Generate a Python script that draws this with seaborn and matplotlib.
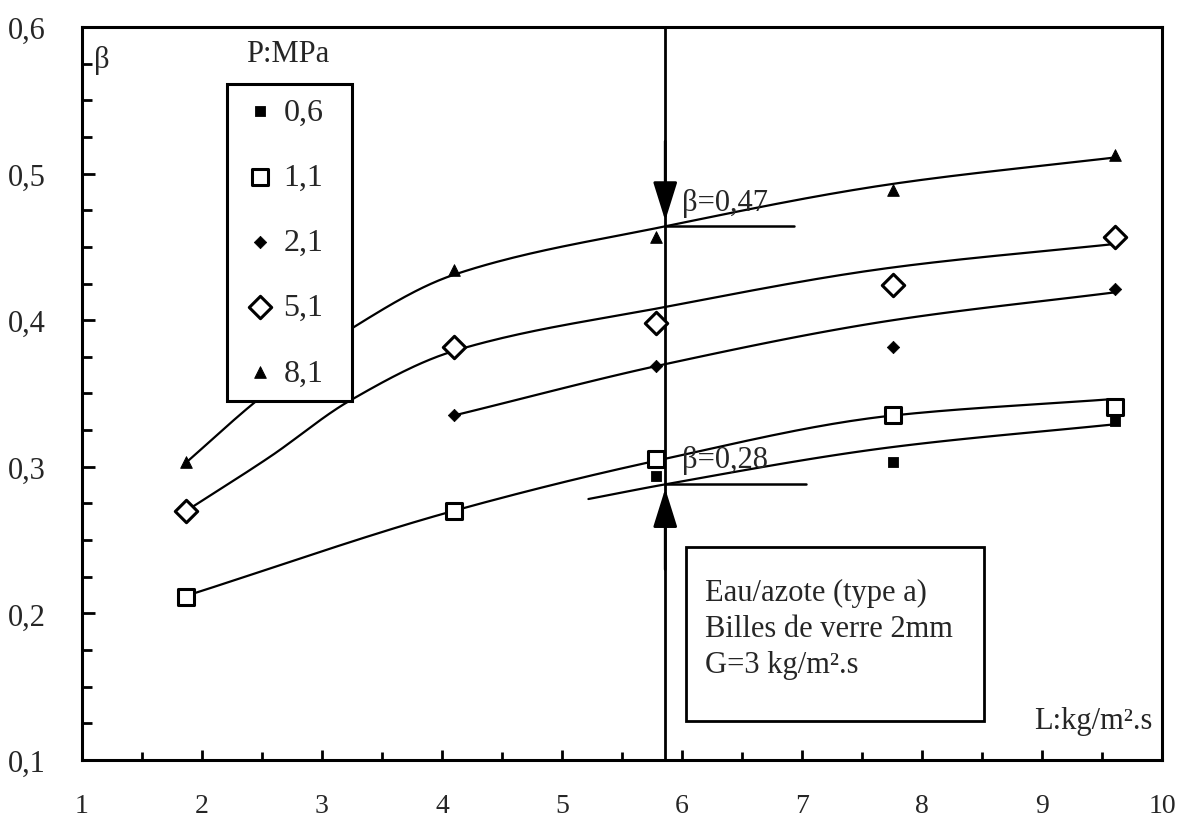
import numpy as np
import pandas as pd
import matplotlib.pyplot as plt
import seaborn as sns
from matplotlib.patches import Rectangle

# measured points (L in kg/m2.s, beta)
x_06 = [5.78, 7.76, 9.61]
b_06 = [0.294, 0.303, 0.331]
x_11 = [1.87, 4.10, 5.78, 7.76, 9.61]
b_11 = [0.211, 0.270, 0.305, 0.335, 0.341]
x_21 = [4.10, 5.78, 7.76, 9.61]
b_21 = [0.335, 0.369, 0.382, 0.421]
x_51 = [1.87, 4.10, 5.78, 7.76, 9.61]
b_51 = [0.270, 0.382, 0.398, 0.424, 0.457]
x_81 = [1.87, 4.10, 5.78, 7.76, 9.61]
b_81 = [0.303, 0.434, 0.457, 0.489, 0.513]

# hand drawn trend curves
cx_06 = [5.22, 5.86, 7.76, 9.61]
cy_06 = [0.278, 0.288, 0.3135, 0.329]
cx_11 = [1.87, 4.10, 5.78, 7.76, 9.56]
cy_11 = [0.212, 0.270, 0.304, 0.335, 0.346]
cx_21 = [4.10, 5.86, 7.76, 9.61]
cy_21 = [0.335, 0.370, 0.400, 0.419]
cx_51 = [1.87, 2.57, 3.23, 4.10, 5.86, 7.76, 9.61]
cy_51 = [0.270, 0.307, 0.345, 0.379, 0.409, 0.436, 0.452]
cx_81 = [1.87, 2.44, 3.26, 4.10, 5.86, 7.76, 9.61]
cy_81 = [0.303, 0.344, 0.395, 0.431, 0.464, 0.493, 0.511]

pressures = ['0,6', '1,1', '2,1', '5,1', '8,1']
x_ticklabels = ['1', '2', '3', '4', '5', '6', '7', '8', '9', '10']
y_ticklabels = ['0,1', '0,2', '0,3', '0,4', '0,5', '0,6']

L_mark = 5.86
beta_hi = 0.464
beta_lo = 0.288


def smooth(xs, ys, n=40):
    # monotone cubic (Fritsch-Carlson) through the knots
    x = np.asarray(xs, float)
    y = np.asarray(ys, float)
    h = np.diff(x)
    d = np.diff(y) / h
    m = np.empty_like(y)
    m[0], m[-1] = d[0], d[-1]
    for k in range(1, len(x) - 1):
        if d[k - 1] * d[k] <= 0:
            m[k] = 0
        else:
            w1 = 2 * h[k] + h[k - 1]
            w2 = h[k] + 2 * h[k - 1]
            m[k] = (w1 + w2) / (w1 / d[k - 1] + w2 / d[k])
    sx, sy = [], []
    for k in range(len(x) - 1):
        t = np.linspace(0, 1, n)
        h00 = 2 * t ** 3 - 3 * t ** 2 + 1
        h10 = t ** 3 - 2 * t ** 2 + t
        h01 = -2 * t ** 3 + 3 * t ** 2
        h11 = t ** 3 - t ** 2
        sx.append(x[k] + t * h[k])
        sy.append(h00 * y[k] + h10 * h[k] * m[k] + h01 * y[k + 1] + h11 * h[k] * m[k + 1])
    return np.concatenate(sx), np.concatenate(sy)


sns.set_theme(style='ticks')
plt.rcParams['font.family'] = ['Liberation Serif', 'DejaVu Serif']
plt.rcParams['axes.linewidth'] = 2.2

fig, ax = plt.subplots(figsize=(11.83, 8.2), dpi=100)
fig.subplots_adjust(left=0.0693, right=0.9823, top=0.9659, bottom=0.072)

# curves
for cx, cy in [(cx_06, cy_06), (cx_11, cy_11), (cx_21, cy_21), (cx_51, cy_51), (cx_81, cy_81)]:
    sx, sy = smooth(cx, cy)
    ax.plot(sx, sy, color='black', lw=1.6, zorder=2)

series = [
    (x_06, b_06, dict(marker='s', s=55, color='black', edgecolor='black')),
    (x_11, b_11, dict(marker='s', s=130, facecolor='white', edgecolor='black', linewidth=2.2)),
    (x_21, b_21, dict(marker='D', s=40, color='black', edgecolor='black')),
    (x_51, b_51, dict(marker='D', s=130, facecolor='white', edgecolor='black', linewidth=2.2)),
    (x_81, b_81, dict(marker='^', s=70, color='black', edgecolor='black')),
]
for (xs, ys, kw), lab in zip(series, pressures):
    df = pd.DataFrame({'L': xs, 'beta': ys})
    sns.scatterplot(data=df, x='L', y='beta', ax=ax, label=lab, zorder=3, **kw)

# vertical reference line with arrows
ax.axvline(L_mark, color='black', lw=2, zorder=2)
arrow = dict(arrowstyle='-|>,head_length=0.8,head_width=0.25', mutation_scale=30,
             color='black', lw=2)
ax.annotate('', xy=(L_mark, beta_hi + 0.002), xytext=(L_mark, beta_hi + 0.06),
            arrowprops=arrow)
ax.annotate('', xy=(L_mark, beta_lo - 0.001), xytext=(L_mark, beta_lo - 0.06),
            arrowprops=arrow)
ax.plot([L_mark, 6.93], [beta_hi, beta_hi], color='black', lw=1.8)
ax.plot([L_mark, 7.03], [beta_lo, beta_lo], color='black', lw=1.8)
ax.text(6.0, 0.475, 'β=0,47', fontsize=22, va='baseline', ha='left')
ax.text(6.0, 0.300, 'β=0,28', fontsize=22, va='baseline', ha='left')

# conditions box
ax.add_patch(Rectangle((6.03, 0.1266), 2.49, 0.1187, fill=True, facecolor='white',
                       edgecolor='black', lw=2, zorder=4))
ax.text(6.19, 0.224, 'Eau/azote (type a)\nBilles de verre 2mm\nG=3 kg/m².s',
        fontsize=22, va='top', ha='left', linespacing=1.32, zorder=5)

ax.text(1.1, 0.578, 'β', fontsize=22, va='center', ha='left')
ax.text(9.92, 0.122, 'L:kg/m².s', fontsize=22, va='baseline', ha='right')

ax.set_xlim(1, 10)
ax.set_ylim(0.1, 0.6)
ax.set_xticks(np.arange(1, 11))
ax.set_xticklabels(x_ticklabels)
ax.set_xticks(np.arange(1.5, 10, 1.0), minor=True)
ax.set_yticks(np.arange(0.1, 0.61, 0.1))
ax.set_yticklabels(y_ticklabels)
ax.set_yticks(np.arange(0.125, 0.6, 0.025), minor=True)
ax.tick_params(direction='in', which='both', width=2, labelsize=22, color='black')
ax.tick_params(axis='y', which='major', length=9, pad=26)
ax.tick_params(axis='y', which='minor', length=7)
ax.tick_params(axis='x', which='major', length=7, pad=24, labelsize=20)
ax.tick_params(axis='x', which='minor', length=6)
ax.set_xlabel('')
ax.set_ylabel('')
for sp in ax.spines.values():
    sp.set_color('black')

leg = ax.legend(loc='upper left',
                bbox_to_anchor=(227 / 1183, 1 - 403 / 820, 125 / 1183, 318 / 820),
                bbox_transform=fig.transFigure, mode='expand', borderaxespad=0,
                frameon=True, fancybox=False, edgecolor='black', framealpha=1,
                fontsize=23, handlelength=1.2, handletextpad=0.15,
                labelspacing=1.12, borderpad=0.42)
leg.get_frame().set_linewidth(2.2)
leg.set_zorder(6)
fig.text(288 / 1183, 1 - 55 / 820, 'P:MPa', fontsize=22, ha='center', va='center')

fig.savefig('out.png', dpi=100)
